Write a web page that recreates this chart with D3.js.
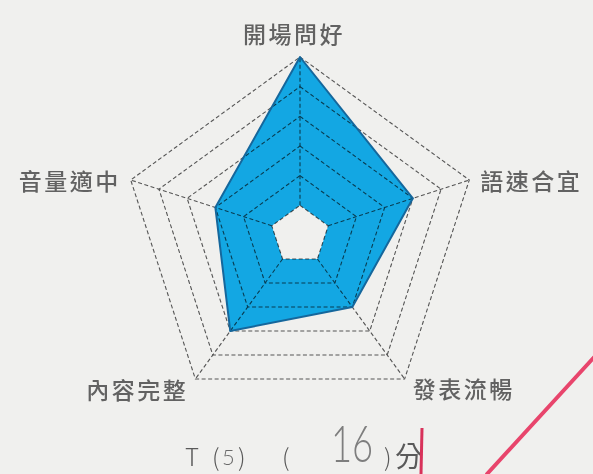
<!DOCTYPE html>
<html>
<head>
<meta charset="utf-8">
<script src="https://cdn.jsdelivr.net/npm/d3@7/dist/d3.min.js"></script>
<style>
  html, body { margin: 0; padding: 0; background: #f0f0ee; }
  svg { display: block; }
</style>
</head>
<body>
<svg id="chart" width="593" height="474"></svg>
<script>
// ---- data ----
const categories = ["開場問好", "語速合宜", "發表流暢", "內容完整", "音量適中"];
const values = [6, 4, 3, 4, 3];
const levels = [1, 2, 3, 4, 5, 6];
const maxLevel = 6;
const footerParts = ["T", "(", "5", ")", "(", "16", ")", "分"];

// ---- layout ----
const W = 593, H = 474;
const cx = 300, cy = 235, R = 178;
const svg = d3.select("#chart");

svg.append("rect").attr("width", W).attr("height", H).attr("fill", "#f0f0ee");

const r = d3.scaleLinear().domain([0, maxLevel]).range([0, R]);
const angle = d3.scalePoint().domain(categories).range([0, 2 * Math.PI * (categories.length - 1) / categories.length]);

const pt = (cat, v) => {
  const a = angle(cat) - Math.PI / 2;
  return [cx + r(v) * Math.cos(a), cy + r(v) * Math.sin(a)];
};

const line = d3.line();
const g = svg.append("g");

// grid rings
levels.forEach(l => {
  g.append("path")
    .attr("d", line(categories.map(c => pt(c, l))) + "Z")
    .attr("fill", "none")
    .attr("stroke", "#555")
    .attr("stroke-width", 1.1)
    .attr("stroke-dasharray", "4,2.5");
});
// radial axes
categories.forEach(c => {
  g.append("path")
    .attr("d", line([pt(c, levels[0]), pt(c, maxLevel)]))
    .attr("stroke", "#555")
    .attr("stroke-width", 1.1)
    .attr("stroke-dasharray", "4,2.5");
});

// data area (with uncoloured centre)
const outer = line(categories.map((c, i) => pt(c, values[i]))) + "Z";
const hole = line(categories.map(c => pt(c, levels[0]))) + "Z";
g.append("path")
  .attr("d", outer + hole)
  .attr("fill", "#14b2f4")
  .attr("fill-rule", "evenodd")
  .style("mix-blend-mode", "multiply");
g.append("path")
  .attr("d", outer)
  .attr("fill", "none")
  .attr("stroke", "#15679c")
  .attr("stroke-width", 2)
  .attr("stroke-linejoin", "round");

// labels
const labelOffsets = [
  { dx: -6, dy: -24, anchor: "middle" },
  { dx: 11, dy: 0, anchor: "start" },
  { dx: 8, dy: 9, anchor: "start" },
  { dx: -7, dy: 10, anchor: "end" },
  { dx: -10, dy: 0, anchor: "end" }
];
categories.forEach((c, i) => {
  const [x, y] = pt(c, maxLevel);
  const o = labelOffsets[i];
  svg.append("text")
    .attr("x", x + o.dx)
    .attr("y", y + o.dy)
    .attr("text-anchor", o.anchor)
    .attr("dominant-baseline", "central")
    .attr("font-family", "'Noto Sans CJK TC', 'Noto Sans CJK SC', sans-serif")
    .attr("font-weight", 500)
    .attr("font-size", 23)
    .attr("letter-spacing", 2.5)
    .attr("fill", "#626262")
    .text(c);
});

// footer
const footerStyle = [
  { x: 185, y: 466, size: 24, w: 300, fill: "#5a5a5a" },
  { x: 212, y: 466, size: 24, w: 300, fill: "#5a5a5a" },
  { x: 222, y: 465, size: 22, w: 300, fill: "#6a6a6a" },
  { x: 238, y: 466, size: 24, w: 300, fill: "#5a5a5a" },
  { x: 282, y: 466, size: 24, w: 300, fill: "#5a5a5a" },
  { x: 331, y: 462, size: 52, w: 300, fill: "#7e7e7e", sx: 0.7 },
  { x: 384, y: 466, size: 24, w: 300, fill: "#5a5a5a" },
  { x: 395, y: 467, size: 28, w: 400, fill: "#5a5a5a" }
];
footerParts.forEach((t, i) => {
  const s = footerStyle[i];
  svg.append("text")
    .attr("transform", `translate(${s.x},${s.y}) scale(${s.sx || 1},1)`)
    .attr("font-family", /\d/.test(t) ? "Lato, sans-serif" : "'Noto Sans CJK TC', sans-serif")
    .attr("font-size", s.size)
    .attr("font-weight", s.w)
    .attr("fill", s.fill)
    .text(t);
});

// red pen marks
svg.append("path").attr("d", "M422,428L421,474").attr("stroke", "#d8325a").attr("stroke-width", 3).attr("fill", "none");
svg.append("path").attr("d", "M597,354L487,474").attr("stroke", "#e8456c").attr("stroke-width", 4).attr("fill", "none").attr("stroke-linecap", "round");
</script>
</body>
</html>
